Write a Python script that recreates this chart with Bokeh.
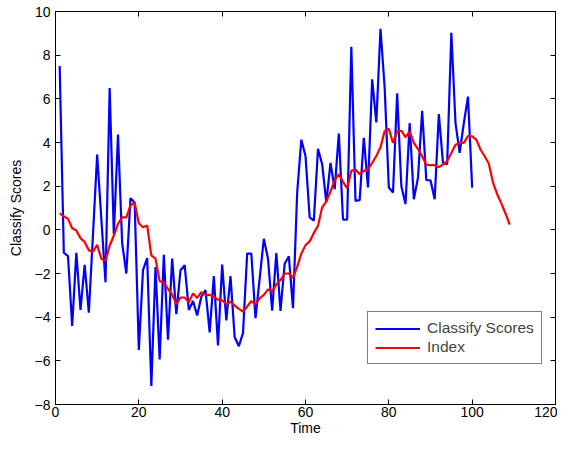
from bokeh.plotting import figure
from bokeh.models import FixedTicker, LinearAxis, Legend, LegendItem, Range1d, ColumnDataSource
from bokeh.embed import file_html
from bokeh.resources import INLINE

# ---- data ----
score_time = list(range(1, 101))
score_values = [
    7.5, -1.05, -1.2, -4.4, -1.05, -3.67, -1.6, -3.79, -0.2, 3.45,
    0.5, -2.4, 6.5, -0.2, 4.36, -0.6, -2.0, 1.45, 1.25, -5.5,
    -1.85, -1.29, -7.15, -1.7, -5.94, -1.14, -5.03, -1.32, -3.86, -1.85,
    -1.62, -3.67, -3.26, -3.92, -3.06, -2.76, -4.70, -2.12, -5.29, -1.59,
    -4.15, -2.12, -4.91, -5.33, -4.73, -1.09, -1.09, -4.05, -2.23, -0.41,
    -1.32, -3.70, -1.06, -3.71, -1.55, -1.21, -3.59, 1.7, 4.13, 3.38,
    0.57, 0.42, 3.71, 3.0, 1.26, 3.07, 1.86, 4.41, 0.47, 0.47,
    8.38, 1.33, 1.36, 4.21, 1.94, 6.89, 4.92, 9.21, 6.5, 1.94,
    1.71, 6.25, 2.01, 1.18, 4.89, 1.40, 2.39, 5.45, 2.27, 2.27,
    1.40, 5.3, 3.07, 3.0, 9.03, 4.89, 3.53, 4.89, 6.1, 1.93,
]
index_time = list(range(1, 110))
index_values = [
    0.75, 0.62, 0.5, 0.07, -0.03, -0.38, -0.56, -0.94, -1.0, -0.69,
    -1.32, -1.42, -0.73, -0.26, 0.27, 0.57, 0.57, 1.12, 1.24, 0.3,
    0.12, 0.2, -1.17, -1.32, -2.35, -2.41, -2.71, -2.96, -3.41, -3.1,
    -3.1, -3.32, -2.91, -3.12, -2.85, -2.98, -2.98, -3.08, -3.2, -3.23,
    -3.41, -3.29, -3.47, -3.62, -3.74, -3.52, -3.26, -3.41, -3.14, -2.98,
    -2.73, -2.83, -2.5, -2.3, -2.0, -2.0, -2.2, -1.7, -1.09, -0.7,
    -0.53, -0.15, 0.19, 1.03, 1.3, 1.75, 2.28, 2.55, 2.2, 1.9,
    2.7, 2.76, 2.55, 2.7, 2.78, 3.07, 3.38, 3.78, 4.52, 4.63,
    3.98, 4.5, 4.54, 4.24, 4.51, 3.98, 3.7, 3.37, 2.98, 2.96,
    2.96, 2.87, 2.99, 3.15, 3.52, 3.9, 3.98, 3.98, 4.3, 4.28,
    4.13, 3.68, 3.37, 3.03, 2.16, 1.63, 1.21, 0.75, 0.24,
]
x_ticks = [0, 20, 40, 60, 80, 100, 120]
y_ticks = [-8, -6, -4, -2, 0, 2, 4, 6, 8, 10]
series_labels = ["Classify Scores", "Index"]
x_label = "Time"
y_label = "Classify Scores"

FONT = "Liberation Sans"
FS = "14px"


def lab(v):
    return ("\u2212" + str(abs(v))) if v < 0 else str(v)


p = figure(
    frame_width=500, frame_height=393,
    x_range=Range1d(0, 120), y_range=Range1d(-8, 10),
    output_backend="svg", toolbar_location=None,
    min_border_left=55, min_border_top=11, min_border_right=2, min_border_bottom=32,
)
p.background_fill_color = "white"
p.border_fill_color = "white"
p.outline_line_color = "black"
p.outline_line_width = 1
p.xgrid.visible = False
p.ygrid.visible = False

for ax, ticks in ((p.xaxis[0], x_ticks), (p.yaxis[0], y_ticks)):
    ax.ticker = FixedTicker(ticks=ticks)
    ax.major_label_overrides = {t: lab(t) for t in ticks}
    ax.major_tick_in = 5
    ax.major_tick_out = 0
    ax.minor_tick_line_color = None
    ax.axis_line_color = "black"
    ax.major_tick_line_color = "black"
    ax.major_label_text_font = FONT
    ax.major_label_text_font_size = FS
    ax.major_label_text_color = "black"
    ax.axis_label_text_font = FONT
    ax.axis_label_text_font_size = FS
    ax.axis_label_text_font_style = "normal"
    ax.axis_label_text_color = "black"

p.xaxis.axis_label = x_label
p.yaxis.axis_label = y_label
p.xaxis.major_label_standoff = 2
p.xaxis.axis_label_standoff = 0
p.yaxis.major_label_standoff = 5
p.yaxis.axis_label_standoff = 8

for side, ticks in (("above", x_ticks), ("right", y_ticks)):
    ax = LinearAxis(ticker=FixedTicker(ticks=ticks))
    ax.major_label_text_font_size = "1px"
    ax.major_label_text_color = None
    ax.major_label_standoff = 0
    ax.major_tick_in = 5
    ax.major_tick_out = 0
    ax.minor_tick_line_color = None
    ax.axis_line_color = "black"
    ax.major_tick_line_color = "black"
    p.add_layout(ax, side)

src1 = ColumnDataSource(dict(x=score_time, y=score_values))
src2 = ColumnDataSource(dict(x=index_time, y=index_values))
r1 = p.line("x", "y", source=src1, line_color="#0000FF", line_width=2.2)
r2 = p.line("x", "y", source=src2, line_color="#FF0000", line_width=2.2)

legend = Legend(
    items=[LegendItem(label=series_labels[0], renderers=[r1]),
           LegendItem(label=series_labels[1], renderers=[r2])],
    location=(312, 40),
)
legend.border_line_color = "black"
legend.border_line_width = 1
legend.background_fill_color = "white"
legend.background_fill_alpha = 1
legend.label_text_font = FONT
legend.label_text_font_size = "15.5px"
legend.glyph_width = 45
legend.glyph_height = 17
legend.label_height = 17
legend.spacing = 1
legend.padding = 7
legend.margin = 0
legend.label_standoff = 7
p.add_layout(legend)

open("out.html", "w").write(file_html(p, INLINE))
